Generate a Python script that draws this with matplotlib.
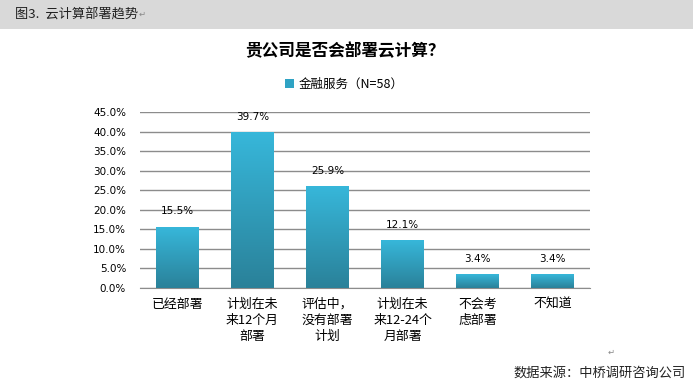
import numpy as np
import matplotlib.pyplot as plt
from matplotlib.colors import LinearSegmentedColormap

plt.rcParams['font.family'] = ['Noto Sans CJK SC', 'DejaVu Sans']

categories = ['已经部署', '计划在未\n来12个月\n部署', '评估中，\n没有部署\n计划',
              '计划在未\n来12-24个\n月部署', '不会考\n虑部署', '不知道']
values = [15.5, 39.7, 25.9, 12.1, 3.4, 3.4]  # %
series_name = '金融服务（N=58）'
yticks = [0, 5, 10, 15, 20, 25, 30, 35, 40, 45]

top_col = '#37b7da'
bot_col = '#2a8199'
cmap = LinearSegmentedColormap.from_list('bar', [bot_col, top_col])

fig = plt.figure(figsize=(6.93, 3.85), dpi=100)
fig.patch.set_facecolor('white')

# grey header band
fig.patches.append(plt.Rectangle((0, 1 - 29 / 385), 1, 29 / 385, transform=fig.transFigure,
                                 facecolor='#d9d9d9', edgecolor='none', zorder=0))
fig.text(15 / 693, 1 - 15 / 385, '图3.  云计算部署趋势', fontsize=9.5, style='italic',
         va='center', ha='left', color='#222222')
fig.text(139 / 693, 1 - 14 / 385, '↵', fontsize=6, va='center', ha='left', color='#888888',
         family=['DejaVu Sans'])

ax = fig.add_axes([140 / 693, 1 - 288 / 385, 450 / 693, 176 / 385])

x = np.arange(len(values))
w = 0.57
bars = ax.bar(x, values, width=w, color='none', edgecolor='none', zorder=3)
grad = np.linspace(0, 1, 256).reshape(-1, 1)
for b in bars:
    bx, by = b.get_x(), b.get_y()
    ax.imshow(grad, cmap=cmap, origin='lower', aspect='auto', zorder=3,
              extent=(bx, bx + b.get_width(), by, by + b.get_height()))

for xi, v in zip(x, values):
    ax.annotate(f'{v:.1f}%', (xi, v), xytext=(0, 8), textcoords='offset points',
                ha='center', va='bottom', fontsize=7.5, family=['DejaVu Sans'])

ax.set_xlim(-0.5, len(values) - 0.5)
ax.set_ylim(0, 45)
ax.set_yticks(yticks)
ax.set_yticklabels([f'{t:.1f}%' for t in yticks], family=['DejaVu Sans'], fontsize=7.5)
ax.set_xticks(x)
ax.set_xticklabels(categories, fontsize=9.3, linespacing=1.3, va='top')
ax.tick_params(axis='both', length=0)
ax.tick_params(axis='y', pad=10)
ax.tick_params(axis='x', pad=7)
ax.grid(axis='y', color='#8c8c8c', linewidth=1, zorder=0)
ax.set_axisbelow(True)
for s in ['top', 'right', 'left']:
    ax.spines[s].set_visible(False)
ax.spines['bottom'].set_color('#8c8c8c')

fig.text(0.497, 1 - 51 / 385, '贵公司是否会部署云计算？', fontsize=12, weight='bold',
         ha='center', va='center')
# legend
leg_h = [plt.Rectangle((0, 0), 1, 1, facecolor='#2fa3c4')]
fig.legend(leg_h, [series_name], loc='center', bbox_to_anchor=(0.497, 1 - 84 / 385),
           frameon=False, fontsize=9, handlelength=0.7, handleheight=0.7, handletextpad=0.4)

fig.text(611 / 693, 1 - 352 / 385, '↵', fontsize=6, va='center', ha='center', color='#888888',
         family=['DejaVu Sans'])
fig.text(686 / 693, 1 - 373 / 385, '数据来源：中桥调研咨询公司', fontsize=9.5, style='italic',
         va='center', ha='right', color='#222222')

fig.savefig('out.png', dpi=100)
